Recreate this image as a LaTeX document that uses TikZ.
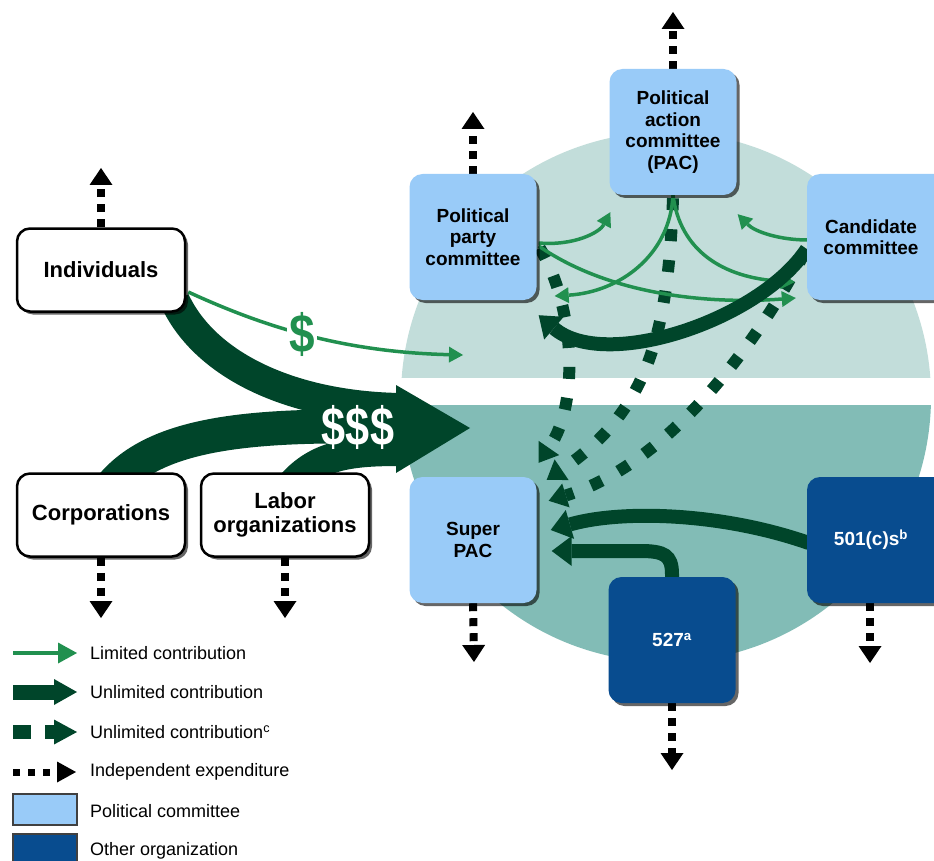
\documentclass[tikz,border=0pt]{standalone}
\usepackage{fontspec}
\setmainfont{Liberation Sans}
\usetikzlibrary{arrows.meta,calc,shadows}
\definecolor{lblue}{HTML}{99CBF8}
\definecolor{dblue}{HTML}{084C8F}
\definecolor{dgreen}{HTML}{00452A}
\definecolor{lgreen}{HTML}{21904F}
\definecolor{clight}{HTML}{C2DDDA}
\definecolor{cdark}{HTML}{82BCB6}
\pgfdeclarelayer{bg}
\pgfdeclarelayer{arr}
\pgfsetlayers{bg,arr,main}
\begin{document}
\begin{tikzpicture}[x=1pt,y=-1pt,
  shad/.style={drop shadow={shadow xshift=3pt,shadow yshift=-3pt,opacity=0.6,fill=black}},
  wbox/.style={shad,draw=black,line width=2.5pt,fill=white,rounded corners=13pt,
    minimum width=168pt,minimum height=83pt,inner sep=0pt,align=center,
    font=\bfseries\fontsize{22}{24}\selectfont},
  pbox/.style={shad,fill=lblue,rounded corners=13pt,minimum width=127pt,minimum height=126pt,
    inner sep=0pt,align=center,font=\bfseries\fontsize{19}{21.5}\selectfont},
  obox/.style={shad,fill=dblue,text=white,rounded corners=13pt,minimum width=127pt,minimum height=126pt,
    inner sep=0pt,align=center,font=\bfseries\fontsize{19}{21.5}\selectfont},
  lim/.style={draw=lgreen,line width=3.5pt,-{Triangle[length=14pt,width=16pt,line width=0pt]}},
  unl/.style={draw=dgreen,line width=14pt,-{Triangle[length=20pt,width=30pt,line width=0pt]}},
  uncd/.style={draw=dgreen,line width=12pt,dash pattern=on 12pt off 19pt,-{Triangle[length=18pt,width=25pt,line width=0pt]}},
  indep/.style={draw=black,line width=8pt,dash pattern=on 8pt off 7pt,-{Triangle[length=17pt,width=23pt,line width=0pt]}},
  legtext/.style={anchor=west,inner sep=0pt,font=\fontsize{18}{20}\selectfont}
]
\useasboundingbox (0,0) rectangle (934,861);

% background and circle
\begin{pgfonlayer}{bg}
  \fill[white] (0,0) rectangle (934,861);
  \begin{scope}
    \clip (0,0) rectangle (934,377);
    \fill[clight] (666,397) circle[radius=265pt];
  \end{scope}
  \begin{scope}
    \clip (0,405) rectangle (934,861);
    \fill[cdark] (666,397) circle[radius=265pt];
  \end{scope}
\end{pgfonlayer}

% boxes
\node[wbox] (ind) at (101,270) {Individuals};
\node[wbox] (corp) at (101,515) {Corporations};
\node[wbox] (labor) at (285,515) {Labor\\organizations};
\node[pbox] (party) at (473,237) {Political\\party\\committee};
\node[pbox] (pac) at (673,132) {Political\\action\\committee\\(PAC)};
\node[pbox,minimum width=140pt] (cand) at (877,237) {\hspace*{-12pt}Candidate\\\hspace*{-12pt}committee};
\node[pbox] (super) at (473,540) {Super\\PAC};
\node[obox,minimum width=140pt] (n501) at (877,540) {\hspace*{-12pt}501(c)s\textsuperscript{b}};
\node[obox] (n527) at (672,640) {527\textsuperscript{a}};

% free ends
\coordinate (indup) at (101,168);
\coordinate (partyup) at (473,112);
\coordinate (pacup) at (673,12);
\coordinate (corpdn) at (101,618);
\coordinate (labordn) at (285,618);
\coordinate (superdn) at (474,662);
\coordinate (dn527) at (672,770);
\coordinate (dn501) at (870,663);
\coordinate (bigtip) at (470,428);
\coordinate (limtip) at (463,355);

\node[fill=white,text=lgreen,inner sep=2pt,font=\bfseries\fontsize{54}{54}\selectfont] (dollar) at (302,334) {\scalebox{0.85}[1]{\$}};
\node[text=white,inner sep=0pt,font=\bfseries\fontsize{54}{54}\selectfont] (money) at (358,427) {\scalebox{0.8}[1]{\$\$\$}};

\begin{pgfonlayer}{arr}
  % big unlimited flow
  \draw[dgreen,line width=30pt] ($(ind.south)+(74,-12)$) .. controls (205,365) and (290,406) .. (400,408);
  \draw[dgreen,line width=34pt] ($(corp.north)+(12,12)$) .. controls (160,430) and (260,424) .. (400,427);
  \draw[dgreen,line width=30pt] ($(labor.north)+(7,12)$) .. controls (318,455) and (350,451) .. (400,451);
  \fill[dgreen] (396,385) -- (bigtip) -- (396,473) -- cycle;

  % limited from individuals
  \draw[lim] ($(ind.east)+(2,22)$) .. controls (260,325) and (340,352) .. (limtip);

  % independent expenditures
  \draw[indep] (ind.north) -- (indup);
  \draw[indep] (party.north) -- (partyup);
  \draw[indep] (pac.north) -- (pacup);
  \draw[indep] (corp.south) -- (corpdn);
  \draw[indep] (labor.south) -- (labordn);
  \draw[indep] (super.south) -- (superdn);
  \draw[indep] (n527.south) -- (dn527);
  \draw[indep] ($(n501.south)+(-7,0)$) -- (dn501);

  % dashed unlimited into super PAC
  \draw[uncd] ($(party.east)+(3,11)$) .. controls (572,300) and (582,400) .. ($(super.north east)+(2,-14)$);
  \draw[uncd] ($(pac.south)+(0,3)$) .. controls (668,330) and (650,410) .. ($(super.north east)+(10,3)$);
  \draw[uncd] ($(cand.west)+(-2,15)$) .. controls (770,320) and (680,460) .. ($(super.north east)+(12,24)$);

  % limited contributions inside circle
  \draw[lim] ($(party.east)+(2,6)$) .. controls (575,246) and (600,232) .. ($(pac.south west)+(1,17)$);
  \draw[lim] ($(party.east)+(2,9)$) .. controls (605,292) and (700,305) .. ($(cand.west)+(-11,61)$);
  \draw[lim] (pac.south) .. controls (670,255) and (620,292) .. ($(party.east)+(18,59)$);
  \draw[lim] (pac.south) .. controls (680,250) and (722,278) .. ($(cand.west)+(-12,45)$);
  \draw[lim] ($(cand.west)+(1,3)$) .. controls (780,240) and (755,232) .. ($(pac.south east)+(1,19)$);

  % unlimited solid
  \draw[unl] ($(cand.west)+(0,12)$) .. controls (760,320) and (605,372) .. ($(party.south east)+(2,15)$);
  \draw[unl] ($(n501.west)+(2,3)$) .. controls (720,512) and (620,510) .. ($(super.east)+(14,-10)$);
  \draw[unl] ($(n527.north)+(0,10)$) -- (672,574) .. controls (672,555) and (664,551) .. (640,551) -- ($(super.east)+(15,11)$);
\end{pgfonlayer}

% legend
\coordinate (l1s) at (13,653); \coordinate (l1e) at (77,653);
\draw[draw=lgreen,line width=4pt,-{Triangle[length=19pt,width=21pt,line width=0pt]}] (l1s) -- (l1e);
\node[legtext] at (90,653) {Limited contribution};
\coordinate (l2s) at (13,692); \coordinate (l2e) at (77,692);
\draw[draw=dgreen,line width=15pt,-{Triangle[length=23pt,width=26pt,line width=0pt]}] (l2s) -- (l2e);
\node[legtext] at (90,692) {Unlimited contribution};
\fill[dgreen] (13,725) rectangle (31,739);
\coordinate (l3s) at (45,732); \coordinate (l3e) at (77,732);
\draw[draw=dgreen,line width=14pt,-{Triangle[length=23pt,width=25pt,line width=0pt]}] (l3s) -- (l3e);
\node[legtext] at (90,732) {Unlimited contribution\textsuperscript{c}};
\coordinate (l4s) at (13,772); \coordinate (l4e) at (76,772);
\draw[draw=black,line width=7pt,dash pattern=on 7pt off 8pt,-{Triangle[length=19pt,width=21pt,line width=0pt]}] (l4s) -- (l4e);
\node[legtext] at (90,772) {Independent expenditure};
\draw[fill=lblue,draw=black!75,line width=1.5pt] (13,794) rectangle (77,825);
\node[legtext] at (90,811) {Political committee};
\draw[fill=dblue,draw=black!75,line width=1.5pt] (13,834) rectangle (77,866);
\node[legtext] at (90,851) {Other organization};
\end{tikzpicture}
\end{document}
